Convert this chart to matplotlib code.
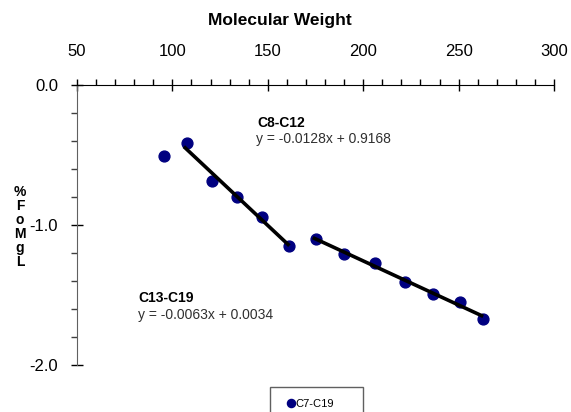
import matplotlib.pyplot as plt
from matplotlib.ticker import MultipleLocator
from matplotlib.patches import Rectangle
import numpy as np

plt.rcParams['font.family'] = ['Liberation Sans', 'DejaVu Sans']

# molecular weight vs % of MgL, C7 to C19
mw_c7 = [95.6]
pct_c7 = [-0.507]

mw_c8_c12 = [107.5, 120.9, 134.0, 147.1, 161.3]
pct_c8_c12 = [-0.416, -0.686, -0.798, -0.940, -1.148]

mw_c13_c19 = [175.1, 189.9, 206.2, 221.9, 236.7, 250.7, 262.9]
pct_c13_c19 = [-1.102, -1.207, -1.269, -1.409, -1.493, -1.552, -1.674]

# trendline coefficients (slope, intercept)
fit_c8_c12 = (-0.0128, 0.9168)
fit_c13_c19 = (-0.0063, 0.0034)

W, H = 571, 412
fig = plt.figure(figsize=(W / 100, H / 100), dpi=100)
ax = fig.add_axes([77 / W, 1 - 365 / H, 477 / W, 280 / H])

navy = '#000080'

# trendlines drawn from the equations over each fitted range
for xs, (m, b) in [(mw_c8_c12, fit_c8_c12), (mw_c13_c19, fit_c13_c19)]:
    xx = np.array([min(xs) - 1.5, max(xs)])
    ax.plot(xx, m * xx + b, color='black', lw=2.6, zorder=3, solid_capstyle='butt')

all_x = mw_c7 + mw_c8_c12 + mw_c13_c19
all_y = pct_c7 + pct_c8_c12 + pct_c13_c19
ax.plot(all_x, all_y, ls='none', marker='o', ms=7.8, mfc=navy, mec=navy,
        zorder=2, label='C7-C19')

ax.set_xlim(50, 300)
ax.set_ylim(-2.0, 0.0)

# x axis on top
ax.xaxis.set_ticks_position('top')
ax.xaxis.set_major_locator(MultipleLocator(50))
ax.xaxis.set_minor_locator(MultipleLocator(10))
ax.tick_params(axis='x', which='major', direction='inout', length=9, width=1,
               pad=14, labelsize=12)
ax.tick_params(axis='x', which='minor', direction='out', length=4, width=1)

ax.yaxis.set_major_locator(MultipleLocator(1.0))
ax.yaxis.set_minor_locator(MultipleLocator(0.2))
ax.yaxis.set_major_formatter(plt.FormatStrFormatter('%.1f'))
ax.tick_params(axis='y', which='major', direction='inout', length=9, width=1,
               pad=9, labelsize=12)
ax.tick_params(axis='y', which='minor', direction='out', length=4, width=1,
               color='#404040')

ax.spines['bottom'].set_visible(False)
ax.spines['right'].set_visible(False)
ax.spines['top'].set_color('black')
ax.spines['left'].set_color('#606060')

fig.text(280 / W, 1 - 21 / H, 'Molecular Weight', ha='center', va='center',
         fontsize=12.5, fontweight='bold')

# stacked y label
fig.text(20 / W, 1 - 227 / H, '%\nF\no\nM\ng\nL', ha='center', va='center',
         fontsize=10, fontweight='bold', linespacing=1.0)

fig.text(257 / W, 1 - 123 / H, 'C8-C12', ha='left', va='center',
         fontsize=10, fontweight='bold')
fig.text(256 / W, 1 - 139 / H, 'y = -0.0128x + 0.9168', ha='left', va='center',
         fontsize=10, color='#303030')
fig.text(138 / W, 1 - 298 / H, 'C13-C19', ha='left', va='center',
         fontsize=10, fontweight='bold')
fig.text(138 / W, 1 - 315 / H, 'y = -0.0063x + 0.0034', ha='left', va='center',
         fontsize=10, color='#303030')

# legend box runs off the bottom edge
fig.patches.append(Rectangle((270 / W, 1 - 420 / H), 93 / W, 33 / H,
                             transform=fig.transFigure, fill=False,
                             edgecolor='#606060', lw=1))
fig.legend(loc='center left', bbox_to_anchor=(287 / W, 1 - 404 / H),
           fontsize=8, frameon=False, handlelength=0.7, handletextpad=0.05,
           borderpad=0, borderaxespad=0, markerscale=0.75)

fig.savefig('out.png', dpi=100)
